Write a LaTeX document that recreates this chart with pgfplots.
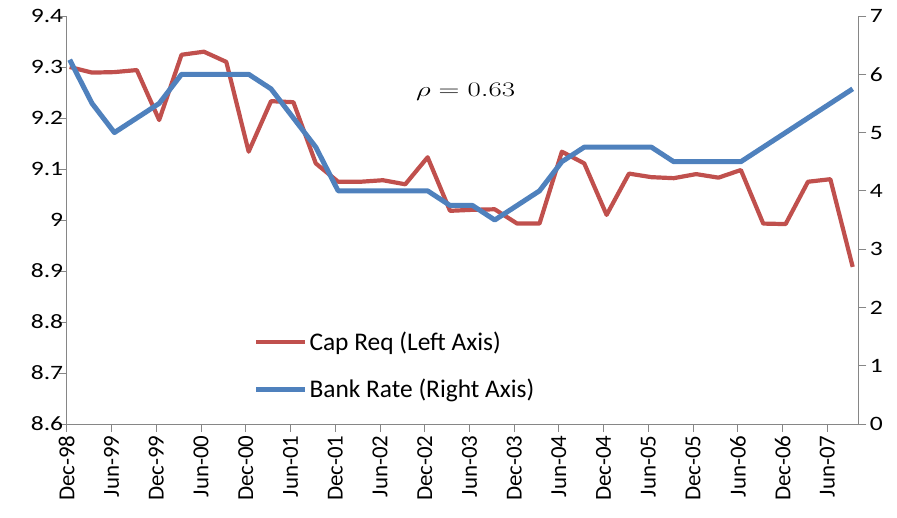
\documentclass[border=0pt]{standalone}
\usepackage{fontspec}
\usepackage{graphicx}
\usepackage{pgfplots}
\pgfplotsset{compat=1.18}
\setmainfont{Carlito}
\newfontfamily\yfont[FakeStretch=1.25]{Carlito}

\definecolor{capred}{HTML}{C0504D}
\definecolor{rateblue}{HTML}{4F81BD}
\definecolor{axgray}{HTML}{868686}

% quarterly points, x = months after Dec-98
\pgfplotstableread{
x     cap
0.4   9.300
3.4   9.289
6.4   9.290
9.4   9.294
12.4  9.196
15.4  9.324
18.4  9.330
21.4  9.310
24.4  9.134
27.4  9.233
30.4  9.231
33.4  9.111
36.4  9.075
39.4  9.075
42.4  9.078
45.4  9.070
48.4  9.123
51.4  9.018
54.4  9.020
57.4  9.021
60.4  8.993
63.4  8.993
66.4  9.134
69.4  9.111
72.4  9.010
75.4  9.091
78.4  9.084
81.4  9.082
84.4  9.090
87.4  9.083
90.4  9.098
93.4  8.993
96.4  8.992
99.4  9.075
102.4 9.080
105.4 8.908
}\capdata

\pgfplotstableread{
x     rate
0.4   6.25
3.4   5.50
6.4   5.00
9.4   5.25
12.4  5.50
15.4  6.00
18.4  6.00
21.4  6.00
24.4  6.00
27.4  5.75
30.4  5.25
33.4  4.75
36.4  4.00
39.4  4.00
42.4  4.00
45.4  4.00
48.4  4.00
51.4  3.75
54.4  3.75
57.4  3.50
60.4  3.75
63.4  4.00
66.4  4.50
69.4  4.75
72.4  4.75
75.4  4.75
78.4  4.75
81.4  4.50
84.4  4.50
87.4  4.50
90.4  4.50
93.4  4.75
96.4  5.00
99.4  5.25
102.4 5.50
105.4 5.75
}\ratedata

\pgfplotsset{
  base/.style={
    scale only axis,
    width=791.6bp, height=408bp,
    at={(66.7bp,94bp)}, anchor=south west,
    xmin=0, xmax=106.15,
    axis line style={axgray, line width=0.8bp},
    tick style={axgray, line width=0.8bp},
    tick align=outside,
    major tick length=8bp,
    /pgf/number format/assume math mode=true,
    clip=false,
  },
}

\begin{document}
\begin{tikzpicture}
\useasboundingbox (0,0) rectangle (897bp,518bp);
\begin{axis}[
    base,
    axis x line*=bottom,
    axis y line*=left,
    ymin=8.6, ymax=9.4,
    ytick={8.6,8.7,8.8,8.9,9.0,9.1,9.2,9.3,9.4},
    yticklabels={8.6,8.7,8.8,8.9,9,9.1,9.2,9.3,9.4},
    xtick={0,6,...,102},
    xticklabels={Dec-98,Jun-99,Dec-99,Jun-00,Dec-00,Jun-01,Dec-01,Jun-02,Dec-02,Jun-03,Dec-03,Jun-04,Dec-04,Jun-05,Dec-05,Jun-06,Dec-06,Jun-07},
    yticklabel style={font=\yfont\fontsize{20.5}{20}\selectfont, black, xshift=8bp},
    xticklabel style={font=\fontsize{23}{23}\selectfont, rotate=90, anchor=east, black},
]
\addplot[capred, line width=4.2bp, line join=round] table[x=x, y=cap] {\capdata};
\node[font=\fontsize{22}{22}\selectfont] at (rel axis cs:0.504,0.814)
  {\scalebox{1.4}[1]{$\rho = 0.63$}};
\end{axis}
\begin{axis}[
    base,
    axis x line=none,
    axis y line*=right,
    ymin=0, ymax=7,
    ytick={0,1,...,7},
    yticklabel style={font=\yfont\fontsize{20.5}{20}\selectfont, black},
    legend style={at={(rel axis cs:0.232,0.235)}, anchor=north west,
      draw=none, fill=none, font=\fontsize{25.5}{29}\selectfont,
      row sep=23bp, legend cell align=left},
    legend image code/.code={\draw[#1] (0bp,0bp) -- (49bp,0bp);},
]
\addlegendimage{capred, line width=4.2bp}
\addlegendentry{Cap Req (Left Axis)}
\addplot[rateblue, line width=5bp, line join=round] table[x=x, y=rate] {\ratedata};
\addlegendentry{Bank Rate (Right Axis)}
\end{axis}
\end{tikzpicture}
\end{document}
